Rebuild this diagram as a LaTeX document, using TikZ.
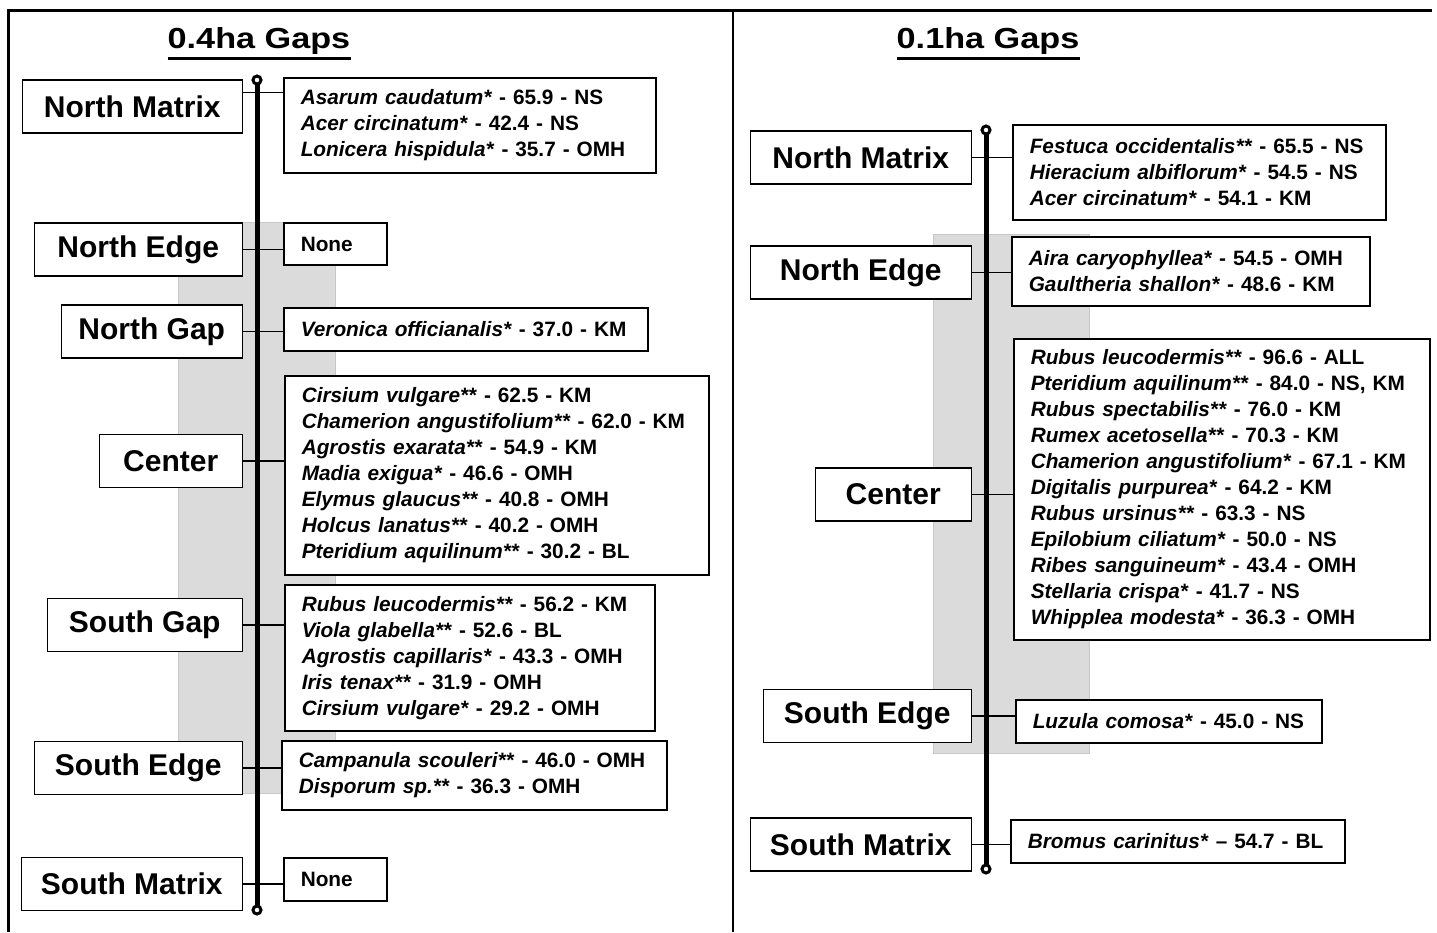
\documentclass[tikz,border=0pt]{standalone}
\usepackage{fontspec}
\setmainfont{Liberation Sans}
\newfontfamily\ttlfont[FakeStretch=1.18]{Liberation Sans}
\tikzset{
  zone/.style={draw, line width=1.5pt, fill=white, inner sep=0pt, anchor=east,
    minimum height=53pt, font=\fontsize{30}{36}\selectfont\bfseries},
  spbox/.style={draw, line width=1.5pt, fill=white, anchor=west, align=left,
    inner xsep=17pt, inner ysep=0pt, font=\fontsize{20.8}{26}\selectfont\bfseries},
  link/.style={line width=1.5pt},
  spine/.style={line width=5pt},
  band/.style={fill=black!14, draw=black!22, line width=1pt},
  ttl/.style={anchor=base, inner sep=0pt, font=\ttlfont\fontsize{29}{34}\selectfont\bfseries}
}
\begin{document}
\begin{tikzpicture}[x=1pt,y=-1pt]
    \useasboundingbox (0,0) rectangle (1437,932);
    % frame
    \draw[line width=3pt] (8,932) -- (8,10) -- (1432,10);
    \draw[line width=2.5pt] (733,10) -- (733,932);

    % ---------------- 0.4ha gaps ----------------
    \node[ttl] (lTitle) at (259,48) {0.4ha Gaps};
    \draw[line width=3pt] ([yshift=-10pt]lTitle.base west) -- ([yshift=-10pt]lTitle.base east);
    \draw[band] (178,222) rectangle (335,793);

    \node[zone, minimum width=220pt] (lNM) at (243,106.5) {North Matrix};
    \node[zone, minimum width=208pt] (lNE) at (243,249.5) {North Edge};
    \node[zone, minimum width=181pt] (lNG) at (243,331.5) {North Gap};
    \node[zone, minimum width=143pt] (lC)  at (243,461) {Center};
    \node[zone, minimum width=195pt] (lSG) at (243,625) {South Gap};
    \node[zone, minimum width=208pt] (lSE) at (243,768) {South Edge};
    \node[zone, minimum width=221pt] (lSM) at (243,884) {South Matrix};

    \node[spbox, text width=338pt, minimum height=95pt] (lNMs) at (283,125.5)
        {\textit{Asarum caudatum*} - 65.9 - NS\\
         \textit{Acer circinatum*} - 42.4 - NS\\
         \textit{Lonicera hispidula*} - 35.7 - OMH};
    \node[spbox, text width=69pt, minimum height=42pt] (lNEs) at (283,244) {None};
    \node[spbox, text width=330pt, minimum height=43pt] (lNGs) at (283,329.5)
        {\textit{Veronica officianalis*} - 37.0 - KM};
    \node[spbox, text width=390pt, minimum height=199pt] (lCs) at (284,475.5)
        {\textit{Cirsium vulgare**} - 62.5 - KM\\
         \textit{Chamerion angustifolium**} - 62.0 - KM\\
         \textit{Agrostis exarata**} - 54.9 - KM\\
         \textit{Madia exigua*} - 46.6 - OMH\\
         \textit{Elymus glaucus**} - 40.8 - OMH\\
         \textit{Holcus lanatus**} - 40.2 - OMH\\
         \textit{Pteridium aquilinum**} - 30.2 - BL};
    \node[spbox, text width=336pt, minimum height=146pt] (lSGs) at (284,658)
        {\textit{Rubus leucodermis**} - 56.2 - KM\\
         \textit{Viola glabella**} - 52.6 - BL\\
         \textit{Agrostis capillaris*} - 43.3 - OMH\\
         \textit{Iris tenax**} - 31.9 - OMH\\
         \textit{Cirsium vulgare*} - 29.2 - OMH};
    \node[spbox, text width=351pt, minimum height=69pt] (lSEs) at (281,775.5)
        {\textit{Campanula scouleri**} - 46.0 - OMH\\
         \textit{Disporum sp.**} - 36.3 - OMH};
    \node[spbox, text width=69pt, minimum height=43pt] (lSMs) at (283,879.5) {None};

    \draw[link] ([yshift=14pt]lNM.east) -- ([yshift=14pt]lNM.east -| lNMs.west);
    \foreach \z in {NE,NG,C,SG,SE,SM}
        \draw[link] (l\z.east) -- (l\z.east -| l\z s.west);

    \coordinate (lTop) at (257,80);
    \coordinate (lBot) at (257,910);
    \draw[spine] (lTop) -- (lBot);
    \draw[line width=3pt, fill=white] (lTop) circle (4);
    \draw[line width=3pt, fill=white] (lBot) circle (4);

    % ---------------- 0.1ha gaps ----------------
    \node[ttl] (rTitle) at (988,48) {0.1ha Gaps};
    \draw[line width=3pt] ([yshift=-10pt]rTitle.base west) -- ([yshift=-10pt]rTitle.base east);
    \draw[band] (933,234) rectangle (1089,753);

    \node[zone, minimum width=221pt] (rNM) at (972,157.5) {North Matrix};
    \node[zone, minimum width=221pt] (rNE) at (972,272.5) {North Edge};
    \node[zone, minimum width=156pt] (rC)  at (972,494.5) {Center};
    \node[zone, minimum width=208pt] (rSE) at (972,716) {South Edge};
    \node[zone, minimum width=221pt] (rSM) at (972,844.5) {South Matrix};

    \node[spbox, text width=339pt, minimum height=95pt] (rNMs) at (1012,172.5)
        {\textit{Festuca occidentalis**} - 65.5 - NS\\
         \textit{Hieracium albiflorum*} - 54.5 - NS\\
         \textit{Acer circinatum*} - 54.1 - KM};
    \node[spbox, text width=324pt, minimum height=69pt] (rNEs) at (1011,271.5)
        {\textit{Aira caryophyllea*} - 54.5 - OMH\\
         \textit{Gaultheria shallon*} - 48.6 - KM};
    \node[spbox, text width=382pt, minimum height=301pt] (rCs) at (1013,489.5)
        {\textit{Rubus leucodermis**} - 96.6 - ALL\\
         \textit{Pteridium aquilinum**} - 84.0 - NS, KM\\
         \textit{Rubus spectabilis**} - 76.0 - KM\\
         \textit{Rumex acetosella**} - 70.3 - KM\\
         \textit{Chamerion angustifolium*} - 67.1 - KM\\
         \textit{Digitalis purpurea*} - 64.2 - KM\\
         \textit{Rubus ursinus**} - 63.3 - NS\\
         \textit{Epilobium ciliatum*} - 50.0 - NS\\
         \textit{Ribes sanguineum*} - 43.4 - OMH\\
         \textit{Stellaria crispa*} - 41.7 - NS\\
         \textit{Whipplea modesta*} - 36.3 - OMH};
    \node[spbox, text width=272pt, minimum height=43pt] (rSEs) at (1015,721.5)
        {\textit{Luzula comosa*} - 45.0 - NS};
    \node[spbox, text width=300pt, minimum height=43pt] (rSMs) at (1010,841.5)
        {\textit{Bromus carinitus*} – 54.7 - BL};

    \foreach \z in {NM,NE,C,SE,SM}
        \draw[link] (r\z.east) -- (r\z.east -| r\z s.west);

    \coordinate (rTop) at (986,130);
    \coordinate (rBot) at (986,869);
    \draw[spine] (rTop) -- (rBot);
    \draw[line width=3pt, fill=white] (rTop) circle (4);
    \draw[line width=3pt, fill=white] (rBot) circle (4);
\end{tikzpicture}
\end{document}
